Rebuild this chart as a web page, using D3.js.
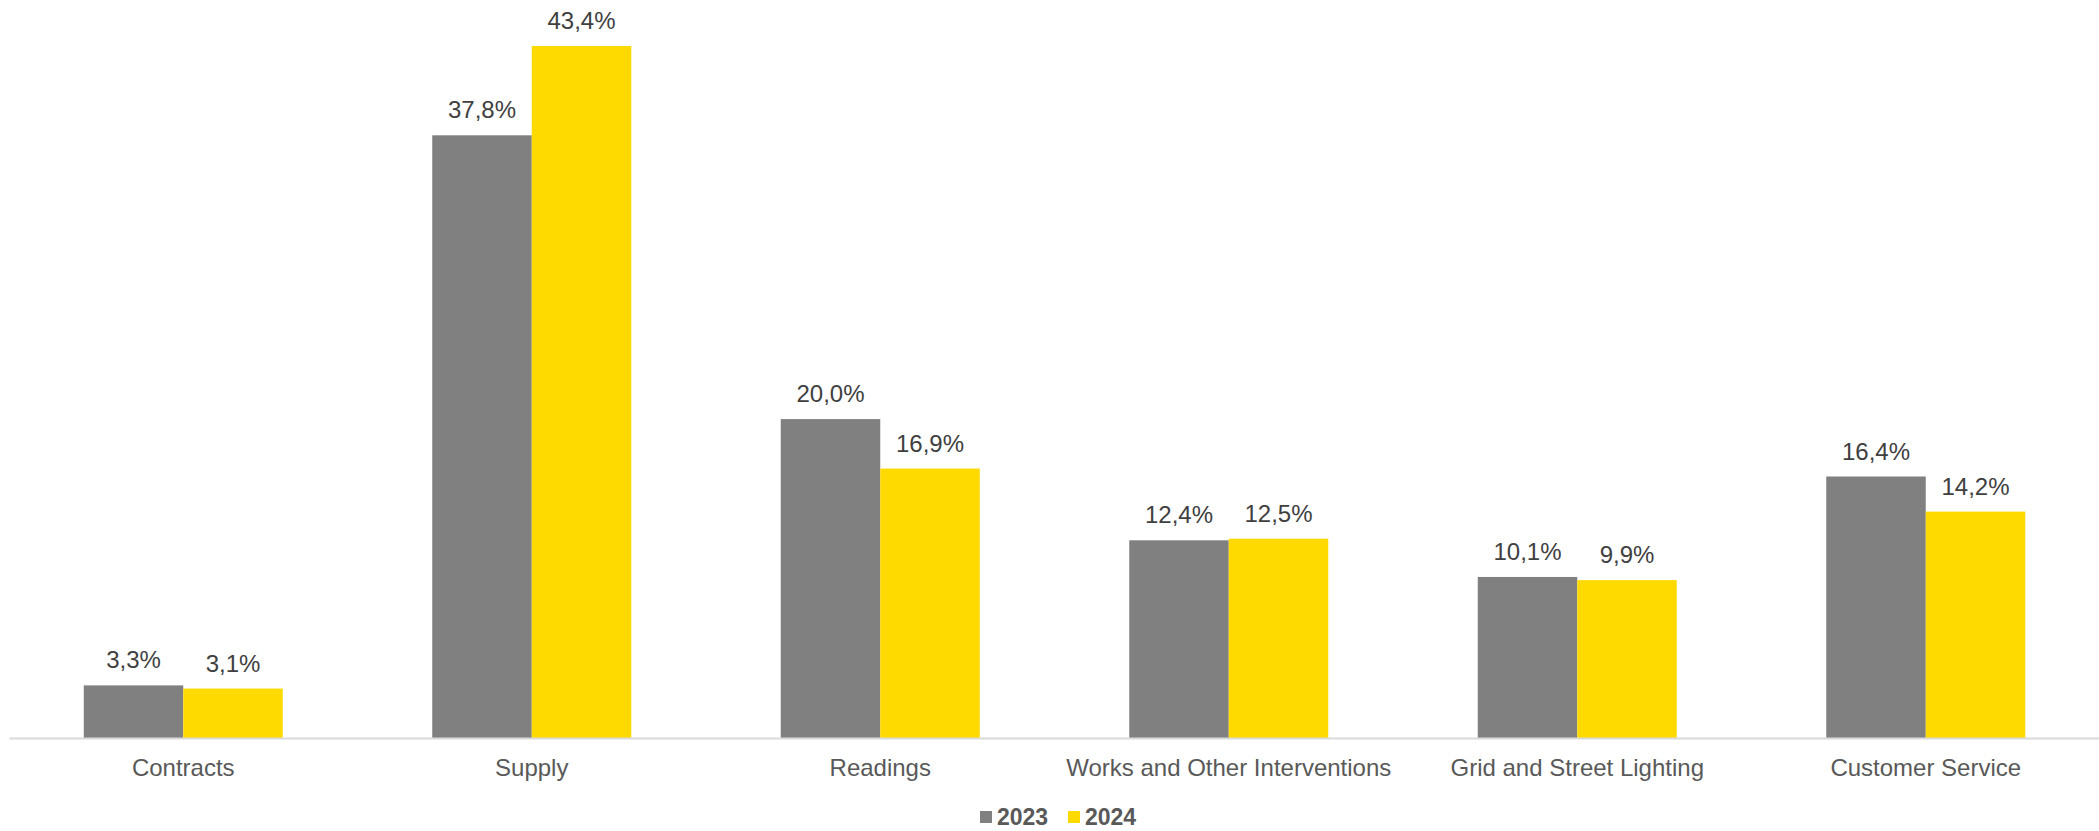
<!DOCTYPE html>
<html>
<head>
<meta charset="utf-8">
<script src="https://cdn.jsdelivr.net/npm/d3@7"></script>
<style>
  html, body { margin: 0; padding: 0; background: #ffffff; }
  svg { display: block; font-family: "Liberation Sans", Arial, sans-serif; }
</style>
</head>
<body>
<svg id="chart" width="2099" height="831"></svg>
<script>
// Share of complaints by topic, 2023 vs 2024 (%)
const categories = ["Contracts", "Supply", "Readings", "Works and Other Interventions", "Grid and Street Lighting", "Customer Service"];
const seriesNames = ["2023", "2024"];
const values2023 = [3.3, 37.8, 20.0, 12.4, 10.1, 16.4];
const values2024 = [3.1, 43.4, 16.9, 12.5, 9.9, 14.2];
const seriesColors = ["#808080", "#FFDA00"];

const rows = categories.map((c, i) => ({ category: c, values: [values2023[i], values2024[i]] }));

const width = 2099, height = 831;
const margin = { left: 9, right: 0, top: 20, bottom: 93 };
const baseline = height - margin.bottom;

const svg = d3.select("#chart");

const x0 = d3.scaleBand()
  .domain(categories)
  .range([margin.left, width - margin.right + 1])
  .paddingInner(0)
  .paddingOuter(0);

const groupWidth = 199;
const x1 = d3.scaleBand()
  .domain(seriesNames)
  .range([(x0.bandwidth() - groupWidth) / 2, (x0.bandwidth() + groupWidth) / 2])
  .padding(0);

const y = d3.scaleLinear()
  .domain([0, 45])
  .range([baseline, margin.top + 0.5]);

const pct = d3.formatLocale({ decimal: ",", thousands: ".", grouping: [3], currency: ["", "€"] }).format(".1f");

// Bars
const groups = svg.append("g").selectAll("g")
  .data(rows)
  .join("g")
  .attr("transform", d => `translate(${x0(d.category)},0)`);

groups.selectAll("rect")
  .data(d => d.values.map((v, j) => ({ key: seriesNames[j], value: v, idx: j })))
  .join("rect")
  .attr("x", d => x1(d.key))
  .attr("width", x1.bandwidth())
  .attr("y", d => y(d.value))
  .attr("height", d => baseline - y(d.value))
  .attr("fill", d => seriesColors[d.idx]);

// Value labels
groups.selectAll("text.value")
  .data(d => d.values.map((v, j) => ({ key: seriesNames[j], value: v })))
  .join("text")
  .attr("class", "value")
  .attr("x", d => x1(d.key) + x1.bandwidth() / 2)
  .attr("y", d => y(d.value) - 17)
  .attr("text-anchor", "middle")
  .attr("font-size", "24px")
  .attr("fill", "#404040")
  .text(d => pct(d.value) + "%");

// Category axis
const xAxis = svg.append("g")
  .attr("transform", `translate(0,${baseline})`)
  .call(d3.axisBottom(x0).tickSize(0).tickPadding(0));
xAxis.select(".domain")
  .attr("stroke", "#d9d9d9")
  .attr("stroke-width", 2);
xAxis.selectAll(".tick text")
  .attr("dy", null)
  .attr("y", 38)
  .attr("font-family", "\"Liberation Sans\", Arial, sans-serif")
  .attr("font-size", "24px")
  .attr("fill", "#595959");

// Legend
const legendItems = [
  { name: seriesNames[0], color: seriesColors[0], x: 980 },
  { name: seriesNames[1], color: seriesColors[1], x: 1068 }
];
const legend = svg.append("g");
const li = legend.selectAll("g").data(legendItems).join("g")
  .attr("transform", d => `translate(${d.x},811)`);
li.append("rect")
  .attr("width", 12).attr("height", 12)
  .attr("fill", d => d.color);
li.append("text")
  .attr("x", 17).attr("y", 14)
  .attr("font-size", "23px")
  .attr("font-weight", "bold")
  .attr("fill", "#595959")
  .text(d => d.name);
</script>
</body>
</html>
